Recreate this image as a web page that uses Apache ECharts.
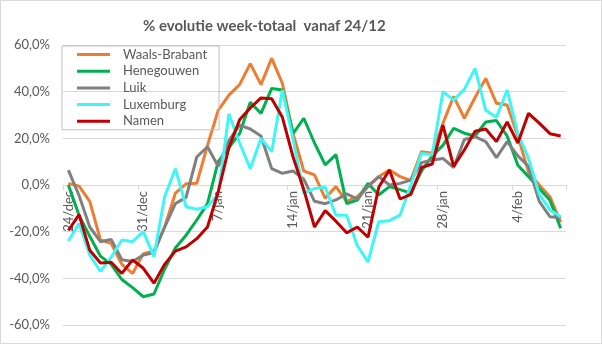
<!DOCTYPE html>
<html>
<head>
<meta charset="utf-8">
<script src="https://cdn.jsdelivr.net/npm/echarts@6/dist/echarts.min.js"></script>
<style>
  html, body { margin: 0; padding: 0; background: #fff; }
  #chart { width: 602px; height: 344px; }
</style>
</head>
<body>
<div id="chart"></div>
<script>
// Daily categories, 24 December to 8 February
const categories = [
  '24/dec','25/dec','26/dec','27/dec','28/dec','29/dec','30/dec','31/dec',
  '1/jan','2/jan','3/jan','4/jan','5/jan','6/jan','7/jan','8/jan','9/jan','10/jan',
  '11/jan','12/jan','13/jan','14/jan','15/jan','16/jan','17/jan','18/jan','19/jan','20/jan',
  '21/jan','22/jan','23/jan','24/jan','25/jan','26/jan','27/jan','28/jan','29/jan','30/jan','31/jan',
  '1/feb','2/feb','3/feb','4/feb','5/feb','6/feb','7/feb','8/feb'
];

// Percentage change of the weekly total, per province
const waalsBrabant = [0.7, -0.5, -7, -23.5, -25, -34, -37.9, -29.5, -28.2, -18, -3.5, 0.5, 0.7, 17, 32, 38.5, 43, 52, 43, 54.3, 43.5, 22, 6, 4.3, -5.7, -0.7, -7, -5, -0.7, 3.5, 6.4, 3.6, 2, 14.3, 13.6, 26.4, 38, 28.6, 37.5, 45.7, 35, 34.3, 21, 5.5, 0, -5, -16];
const henegouwen = [0, -13, -22, -30.5, -34, -40.5, -44, -47.9, -46.7, -36, -27, -21.5, -15, -8, 10, 16, 22, 35.5, 30.7, 41.4, 40.7, 22, 28.6, 18, 8.6, 13, -8, -6.5, 0.7, -4.3, -0.7, -2, -3.5, 6, 12.5, 17, 24.3, 22.2, 21, 27, 27.6, 21, 8.5, 3.6, -1.5, -6.5, -18.5];
const luik = [6.4, -4.5, -18, -24.3, -23.3, -32, -32.8, -30, -29, -18, -8, -5.3, 12, 16.4, 8, 19, 25.7, 24, 21, 7, 5, 6, 2.5, -7, -8, -6.4, -3.8, -6, -0.5, 3.6, 0, 0.7, 2.1, 9.6, 10.7, 11.4, 7.5, 19.5, 20.7, 18.6, 11.7, 18.6, 12.5, 8, -7, -13.6, -14];
const luxemburg = [-24, -16.5, -30, -37, -31, -23.6, -24.3, -20, -30.7, -5, 7, -9.3, -10.4, -9.3, -4, 30.5, 18, 7, 20, 14.3, 40.7, 19.5, -3.5, -1.5, -1, -13, -13, -26, -33, -15.7, -15.3, -12.9, 0, 13.6, 12.9, 40, 36.4, 41, 50, 32, 29, 40.7, 22, 11.4, -4, -10.7, -13.6];
const namen = [-19.5, -12.7, -28, -33.4, -33.1, -37.9, -32.1, -35.7, -42.1, -34, -28.3, -26.5, -23, -18, -3, 16, 28, 33, 37.3, 37, 29, 12, -2, -18, -11, -15.5, -20.5, -18, -22.4, -1, 6.4, -6, -4, 7.5, 9, 25.7, 8, 15, 23, 24, 18.6, 27, 18, 30.7, 26.5, 22, 21];

const seriesNames = ['Waals-Brabant', 'Henegouwen', 'Luik', 'Luxemburg', 'Namen'];
const seriesData = [waalsBrabant, henegouwen, luik, luxemburg, namen];
const seriesColors = ['#ED7D31', '#00B050', '#808080', '#3FF6F6', '#C00000'];

const FONT = 'Lato, "Open Sans", sans-serif';
const TEXT = '#595959';
const GRID = '#d9d9d9';

const Y_MIN = -60, Y_MAX = 60;
const GRID_TOP = 45, GRID_BOTTOM = 19, CHART_H = 344;
// Category axis sits on the 0% line
const plotH = CHART_H - GRID_TOP - GRID_BOTTOM;
const zeroOffset = -plotH * (0 - Y_MIN) / (Y_MAX - Y_MIN);

const chart = echarts.init(document.getElementById('chart'), null, { renderer: 'canvas' });

chart.setOption({
  animation: false,
  backgroundColor: '#ffffff',
  title: {
    text: '% evolutie week-totaal  vanaf 24/12',
    left: 143,
    top: 19,
    padding: 0,
    textStyle: { fontFamily: FONT, fontSize: 15, fontWeight: 'bold', color: TEXT }
  },
  legend: {
    data: seriesNames,
    orient: 'vertical',
    left: 62,
    top: 46,
    padding: [1, 12, 1, 15],
    itemGap: 1.7,
    itemWidth: 33,
    itemHeight: 3,
    icon: 'rect',
    borderColor: '#bfbfbf',
    borderWidth: 1,
    backgroundColor: 'transparent',
    textStyle: { fontFamily: FONT, fontSize: 13, color: TEXT, lineHeight: 15, padding: [0, 0, 0, 8] }
  },
  grid: { left: 63, right: 36, top: GRID_TOP, bottom: GRID_BOTTOM, containLabel: false, outerBoundsMode: 'none' },
  xAxis: {
    type: 'category',
    data: categories,
    boundaryGap: true,
    position: 'bottom',
    offset: zeroOffset,
    axisLine: { onZero: false, lineStyle: { color: GRID, width: 1 } },
    axisTick: { show: true, interval: 6, length: 5, lineStyle: { color: GRID } },
    axisLabel: {
      interval: 6,
      rotate: 90,
      margin: 6,
      fontFamily: FONT,
      fontSize: 13,
      color: TEXT
    },
    splitLine: { show: false }
  },
  yAxis: {
    type: 'value',
    min: Y_MIN,
    max: Y_MAX,
    interval: 20,
    axisLine: { show: false },
    axisTick: { show: false },
    axisLabel: {
      margin: 13,
      fontFamily: FONT,
      fontSize: 13,
      color: TEXT,
      formatter: v => v.toFixed(1).replace('.', ',') + '%'
    },
    splitLine: { lineStyle: { color: GRID, width: 1 } }
  },
  series: seriesNames.map((name, i) => ({
    name,
    type: 'line',
    data: seriesData[i],
    symbol: 'none',
    smooth: false,
    lineStyle: { width: 3, color: seriesColors[i] },
    itemStyle: { color: seriesColors[i] }
  })),
  graphic: [{
    type: 'rect',
    shape: { x: 0.5, y: 0.5, width: 601, height: 343 },
    style: { fill: 'none', stroke: GRID, lineWidth: 1 },
    silent: true,
    z: 100
  }]
});
</script>
</body>
</html>
